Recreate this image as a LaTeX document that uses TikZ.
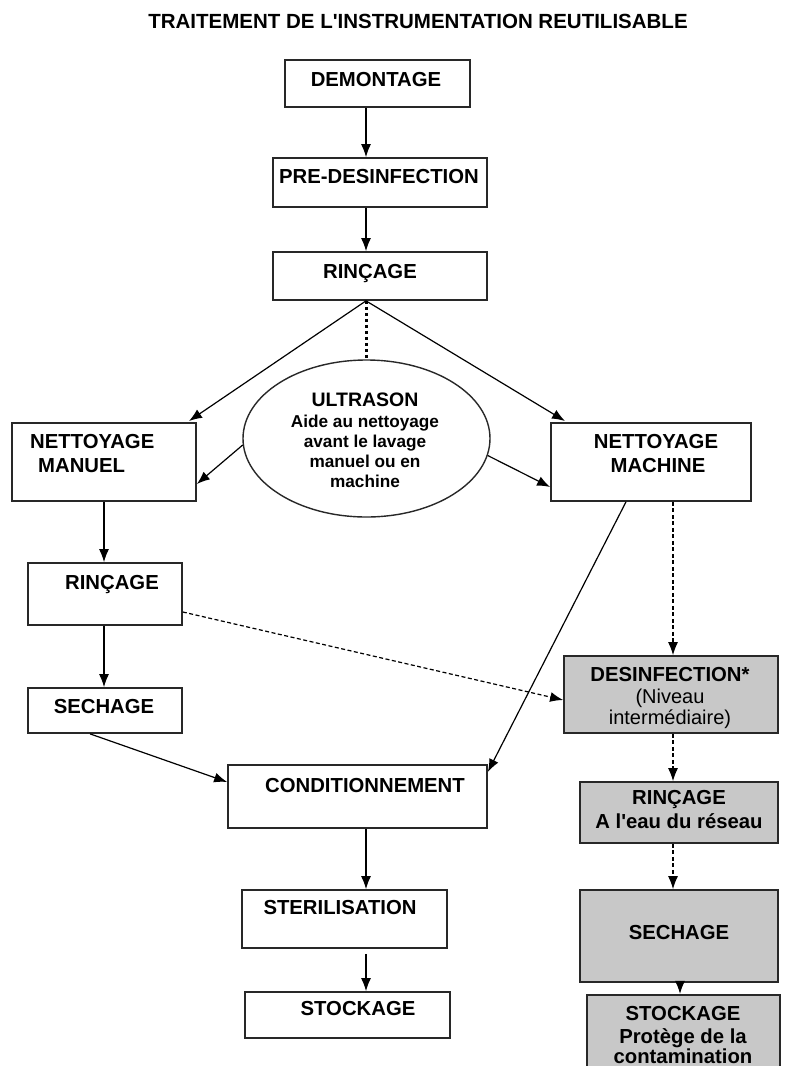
\documentclass[tikz,border=0pt]{standalone}
\usepackage{fontspec}
\setmainfont{Liberation Sans}
\newfontfamily\plainsans{Liberation Sans}
\usetikzlibrary{arrows.meta,shapes.geometric}
\definecolor{grayfill}{RGB}{200,200,200}
\definecolor{edge}{RGB}{40,40,40}
\begin{document}
\begin{tikzpicture}[x=1pt,y=-1pt,
  box/.style={draw=edge, line width=1.7pt, fill=white, inner sep=0pt, rectangle},
  gbox/.style={box, fill=grayfill},
  lbl/.style={font=\plainsans\fontsize{20.3}{24}\selectfont\bfseries, inner sep=0pt, anchor=base},
  lblr/.style={font=\plainsans\fontsize{20}{24}\selectfont, inner sep=0pt, anchor=base},
  small/.style={font=\plainsans\fontsize{17.2}{20}\selectfont\bfseries, inner sep=0pt, anchor=base},
  arr/.style={line width=1.2pt, -{Latex[length=13pt,width=10pt]}},
  dsh/.style={arr, dash pattern=on 4pt off 2.5pt},
  dots/.style={line width=3pt, dash pattern=on 3pt off 3pt}]
\useasboundingbox (0,0) rectangle (786,1066);
\clip (0,0) rectangle (786,1066);

% title
\node[lbl, font=\plainsans\fontsize{20.5}{24}\selectfont\bfseries] (title) at (418,28.5) {TRAITEMENT DE L'INSTRUMENTATION REUTILISABLE};

\coordinate (axis) at (366,0);

% central column
\node[box, minimum width=185pt, minimum height=47pt] (demont) at (377.5,83.5) {};
\node[lbl] (tdemont) at (376,86.6) {DEMONTAGE};
\node[box, minimum width=214pt, minimum height=49pt] (predes) at (380,182.5) {};
\node[lbl] (tpredes) at (379,183.6) {PRE-DESINFECTION};
\node[box, minimum width=214pt, minimum height=48pt] (rinc1) at (380,276) {};
\node[lbl] (trinc1) at (370,278.6) {RINÇAGE};

% ultrason
\node[ellipse, draw=edge, line width=1.4pt, minimum width=247pt, minimum height=157pt, inner sep=0pt] (ultra) at (366.5,438.5) {};
\node[lbl, font=\plainsans\fontsize{19.5}{24}\selectfont\bfseries] (tultra1) at (365,406) {ULTRASON};
\node[small] (tultra2) at (365,427.5) {Aide au nettoyage};
\node[small] (tultra3) at (365,447.5) {avant le lavage};
\node[small] (tultra4) at (365,467.5) {manuel ou en};
\node[small] (tultra5) at (365,487.5) {machine};

% nettoyage
\node[box, minimum width=184pt, minimum height=78pt] (nman) at (104,462) {};
\node[lbl, anchor=base west] (tnman1) at (30,448.6) {NETTOYAGE};
\node[lbl, anchor=base west] (tnman2) at (38,472.6) {MANUEL};
\node[box, minimum width=200pt, minimum height=78pt] (nmach) at (651,462) {};
\node[lbl] (tnmach1) at (656,448.6) {NETTOYAGE};
\node[lbl] (tnmach2) at (658,472.6) {MACHINE};

% left column
\node[box, minimum width=154pt, minimum height=62pt] (rinc2) at (105,594) {};
\node[lbl] (trinc2) at (112,589.6) {RINÇAGE};
\node[box, minimum width=154pt, minimum height=45pt] (sech1) at (105,710.5) {};
\node[lbl] (tsech1) at (104,713.6) {SECHAGE};

% lower central column
\node[box, minimum width=259pt, minimum height=63pt] (cond) at (357.5,796.5) {};
\node[lbl] (tcond) at (365,792.6) {CONDITIONNEMENT};
\node[box, minimum width=205pt, minimum height=58pt] (ster) at (344.5,919) {};
\node[lbl] (tster) at (340,914.6) {STERILISATION};
\node[box, minimum width=205pt, minimum height=46pt] (stock1) at (347.5,1015) {};
\node[lbl] (tstock1) at (358,1015.6) {STOCKAGE};

% right column (grey)
\node[gbox, minimum width=214pt, minimum height=77pt] (des) at (671,694.5) {};
\node[lbl] (tdes1) at (670,681.6) {DESINFECTION*};
\node[lblr] (tdes2) at (670,703.6) {(Niveau};
\node[lblr] (tdes3) at (670,724.6) {intermédiaire)};
\node[gbox, minimum width=198pt, minimum height=61pt] (rinc3) at (679,812.5) {};
\node[lbl] (trinc3a) at (679,804.6) {RINÇAGE};
\node[lbl] (trinc3b) at (679,828.6) {A l'eau du réseau};
\node[gbox, minimum width=198pt, minimum height=92pt] (sech2) at (679,936) {};
\node[lbl] (tsech2) at (679,939.6) {SECHAGE};
\node[gbox, line width=2.2pt, minimum width=193pt, minimum height=80pt] (stock2) at (683.5,1035) {};
\node[lbl] (tstock2a) at (683,1020.6) {STOCKAGE};
\node[lbl] (tstock2b) at (683,1043.6) {Protège de la};
\node[lbl] (tstock2c) at (683,1063.6) {contamination};

% connectors: central column
\draw[arr] (demont.south -| axis) -- (predes.north -| axis);
\draw[arr] (predes.south -| axis) -- (rinc1.north -| axis);
\draw[arr] (rinc1.south -| axis) -- (189,421);
\draw[arr] (rinc1.south -| axis) -- (565,421);
\draw[dots] (rinc1.south -| axis) -- (ultra.north -| axis);

% from ultrason
\draw[arr] (ultra.183) -- (nman.east |- 0,484);
\draw[arr] (ultra.352) -- (nmach.west |- 0,487);

% left column
\draw[arr] (nman.south -| 104,0) -- (rinc2.north -| 104,0);
\draw[arr] (rinc2.south -| 104,0) -- (sech1.north -| 104,0);
\draw[arr] (sech1.south -| 90,0) -- (cond.west |- 0,782);
\draw[arr] (nmach.south -| 626,0) -- (cond.east |- 0,772);
\draw[dsh] (rinc2.east |- 0,612) -- (des.west |- 0,700);

% right column
\draw[dsh] (nmach.south -| 673,0) -- (des.north -| 673,0);
\draw[dsh] (des.south -| 673,0) -- (rinc3.north -| 673,0);
\draw[dsh] (rinc3.south -| 673,0) -- (sech2.north -| 673,0);
\draw[arr] (sech2.south -| 680,0) -- (stock2.north -| 680,0);

% lower central
\draw[arr] (cond.south -| axis) -- (ster.north -| axis);
\draw[arr] ([yshift=-5pt]ster.south -| axis) -- (stock1.north -| axis);
\end{tikzpicture}
\end{document}
